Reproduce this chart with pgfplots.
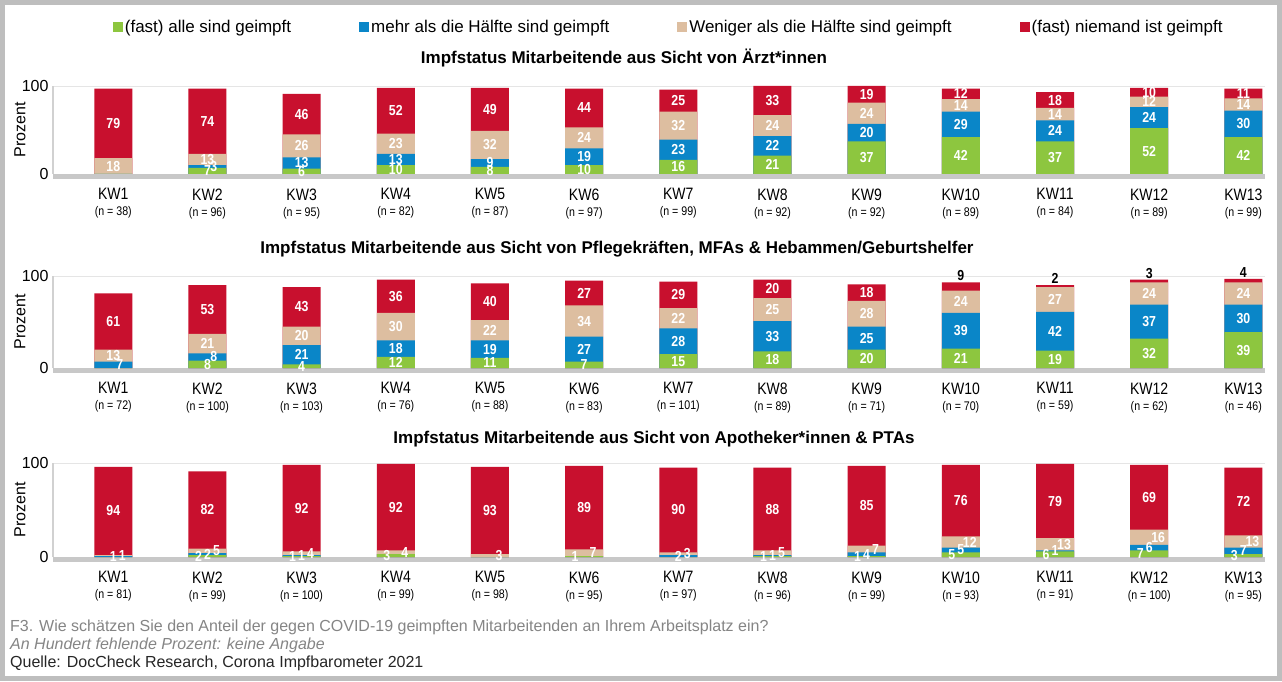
\documentclass[border=0pt]{standalone}
\usepackage{pgfplots}
\pgfplotsset{compat=1.18}
\usepackage{pgfplotstable}
\usepackage{fontspec}
\setmainfont{Liberation Sans}
\newfontfamily\cond[FakeStretch=0.85]{Liberation Sans}
\definecolor{cG}{HTML}{8DC63F}
\definecolor{cB}{HTML}{0A86C8}
\definecolor{cW}{HTML}{DDBEA0}
\definecolor{cR}{HTML}{C8102E}
\definecolor{cFrm}{HTML}{BEBEBE}
\definecolor{cBase}{HTML}{C8C8C8}
\definecolor{cFoot}{HTML}{858585}
\newcommand\legfont{\fontsize{17}{19}\selectfont}
\newcommand\ytfont{\fontsize{16}{18}\selectfont}
\newcommand\kwfont{\cond\fontsize{16.5}{18}\selectfont}
\newcommand\nfont{\fontsize{12.5}{13}\selectfont}
\newcommand\lblfont{\cond\fontsize{14.5}{15}\selectfont\bfseries}
\newcommand\ttlfont{\fontsize{17}{19}\selectfont\bfseries}
\newcommand\footfont{\fontsize{16}{18}\selectfont}
\newcommand\kw[2]{KW#1\\[-2pt]{\nfont(n = #2)}}

\pgfplotstableread{
x g b w r
1 0 0 18 79
2 7 3 13 74
3 6 13 26 46
4 10 13 23 52
5 8 9 32 49
6 10 19 24 44
7 16 23 32 25
8 21 22 24 33
9 37 20 24 19
10 42 29 14 12
11 37 24 14 18
12 52 24 12 10
13 42 30 14 11
}\dA
\pgfplotstableread{
x g b w r
1 0 7 13 61
2 8 8 21 53
3 4 21 20 43
4 12 18 30 36
5 11 19 22 40
6 7 27 34 27
7 15 28 22 29
8 18 33 25 20
9 20 25 28 18
10 21 39 24 9
11 19 42 27 2
12 32 37 24 3
13 39 30 24 4
}\dB
\pgfplotstableread{
x g b w r
1 0 1 1 94
2 2 2 5 82
3 1 1 4 92
4 3 0 4 92
5 0 0 3 93
6 1 0 7 89
7 0 2 3 90
8 1 1 5 88
9 1 4 7 85
10 5 5 12 76
11 6 1 13 79
12 7 6 16 69
13 3 7 13 72
}\dC

\pgfplotsset{
  sq/.style={legend image code/.code={\fill[##1] (0pt,-5pt) rectangle (10pt,5pt);}},
  bars/.style={ybar, bar width=38pt, bar shift=0pt, draw=none, fill=#1, forget plot},
  lbl/.style={draw=none, mark=none, forget plot, point meta=explicit symbolic,
    nodes near coords={\ifnum\pgfplotspointmeta>0 \pgfplotspointmeta\fi},
    nodes near coords style={font=\lblfont, text=white, anchor=center, inner sep=0pt, xshift=#1}},
  lblB/.style={draw=none, mark=none, forget plot, point meta=explicit symbolic,
    nodes near coords={\ifnum\pgfplotspointmeta>0 \ifnum\pgfplotspointmeta<\bthr\relax\makebox[0pt][l]{\hspace{3pt}\pgfplotspointmeta}\else\pgfplotspointmeta\fi\fi},
    nodes near coords style={font=\lblfont, text=white, anchor=center, inner sep=0pt}},
  lblR/.style={draw=none, mark=none, forget plot, point meta=explicit symbolic,
    nodes near coords={\ifnum\pgfplotspointmeta<10 \color{black}\fi\pgfplotspointmeta},
    nodes near coords style={font=\lblfont, text=white, anchor=center, inner sep=0pt}},
  panel/.style={
    scale only axis, width=1212pt, anchor=south west,
    xmin=0.36, xmax=13.23, ymin=0, ymax=100,
    xtick={1,...,13}, ytick={0,100},
    ymajorgrids, grid style={line width=0.8pt, color=black!10},
    axis x line*=bottom, axis y line*=left,
    x axis line style={cBase, line width=5pt, -, yshift=-2.5pt},
    y axis line style={black!18, line width=1.5pt, -},
    major tick length=0pt,
    /pgf/number format/assume math mode=true,
    yticklabel style={font=\ytfont, xshift=-1pt},
    xticklabel style={font=\kwfont, align=center, yshift=-11pt},
    ylabel={Prozent},
    every axis y label/.style={at={(rel axis cs:0,0.5)}, xshift=-33pt, rotate=90, anchor=center, font=\ytfont},
    clip=false,
  },
}
% #1 table, #2 and #3 horizontal shifts of the green and beige labels
\newcommand\panelplots[3]{%
  \addplot[bars=cR] table[x=x, y expr=\thisrow{g}+\thisrow{b}+\thisrow{w}+\thisrow{r}] {#1};
  \addplot[bars=cW] table[x=x, y expr=\thisrow{g}+\thisrow{b}+\thisrow{w}] {#1};
  \addplot[bars=cB] table[x=x, y expr=\thisrow{g}+\thisrow{b}] {#1};
  \addplot[bars=cG] table[x=x, y=g] {#1};
  \addplot[lbl=#2] table[x=x, y expr=\thisrow{g}/2, meta=g] {#1};
  \addplot[lblB] table[x=x, y expr=\thisrow{g}+\thisrow{b}/2, meta=b] {#1};
  \addplot[lbl=#3] table[x=x, y expr=\thisrow{g}+\thisrow{b}+\thisrow{w}/2, meta=w] {#1};
  \addplot[lblR] table[x=x, y expr={\thisrow{r}<9.5 ? \thisrow{g}+\thisrow{b}+\thisrow{w}+\thisrow{r}+7 : \thisrow{g}+\thisrow{b}+\thisrow{w}+\thisrow{r}/2}, meta=r] {#1};
}

\begin{document}
\begin{tikzpicture}[x=1pt,y=1pt]
\useasboundingbox (0,0) rectangle (1282,681);
\fill[white] (0,0) rectangle (1282,681);

\def\bthr{9}
\begin{axis}[panel, at={(53pt,507pt)}, height=88pt,
  xticklabels={\kw{1}{38},\kw{2}{96},\kw{3}{95},\kw{4}{82},\kw{5}{87},\kw{6}{97},\kw{7}{99},\kw{8}{92},\kw{9}{92},\kw{10}{89},\kw{11}{84},\kw{12}{89},\kw{13}{99}},
  legend style={at={(0.508,1.67)}, anchor=center, draw=none, fill=none, font=\legfont, legend columns=4,
    /tikz/every even column/.append style={column sep=66pt}},
]
\panelplots{\dA}{0pt}{0pt}
\addlegendimage{sq, fill=cG, draw=none}
\addlegendimage{sq, fill=cB, draw=none}
\addlegendimage{sq, fill=cW, draw=none}
\addlegendimage{sq, fill=cR, draw=none}
\legend{(fast) alle sind geimpft, mehr als die Hälfte sind geimpft, Weniger als die Hälfte sind geimpft, (fast) niemand ist geimpft}
\end{axis}

\begin{axis}[panel, at={(53pt,313pt)}, height=92pt,
  xticklabels={\kw{1}{72},\kw{2}{100},\kw{3}{103},\kw{4}{76},\kw{5}{88},\kw{6}{83},\kw{7}{101},\kw{8}{89},\kw{9}{71},\kw{10}{70},\kw{11}{59},\kw{12}{62},\kw{13}{46}},
]
\panelplots{\dB}{0pt}{0pt}
\end{axis}

\begin{axis}[panel, at={(53pt,124pt)}, height=94pt,
  xticklabels={\kw{1}{81},\kw{2}{99},\kw{3}{100},\kw{4}{99},\kw{5}{98},\kw{6}{95},\kw{7}{97},\kw{8}{96},\kw{9}{99},\kw{10}{93},\kw{11}{91},\kw{12}{100},\kw{13}{95}},
]
\def\bthr{0}
\panelplots{\dC}{-9pt}{9pt}
\end{axis}

\node[font=\ttlfont] at (624,623) {Impfstatus Mitarbeitende aus Sicht von Ärzt*innen};
\node[font=\ttlfont] at (617,432) {Impfstatus Mitarbeitende aus Sicht von Pflegekräften, MFAs \& Hebammen/Geburtshelfer};
\node[font=\ttlfont] at (654,242) {Impfstatus Mitarbeitende aus Sicht von Apotheker*innen \& PTAs};

\node[anchor=west, font=\footfont, text=cFoot, inner sep=0pt] at (10,54) {F3. Wie schätzen Sie den Anteil der gegen COVID-19 geimpften Mitarbeitenden an Ihrem Arbeitsplatz ein?};
\node[anchor=west, font=\footfont\itshape, text=cFoot, inner sep=0pt] at (10,36) {An Hundert fehlende Prozent: keine Angabe};
\node[anchor=west, font=\footfont, text=black!85, inner sep=0pt] at (10,18) {Quelle: DocCheck Research, Corona Impfbarometer 2021};

\draw[cFrm, line width=5pt] (2.5,2.5) rectangle (1279.5,678.5);
\end{tikzpicture}
\end{document}
